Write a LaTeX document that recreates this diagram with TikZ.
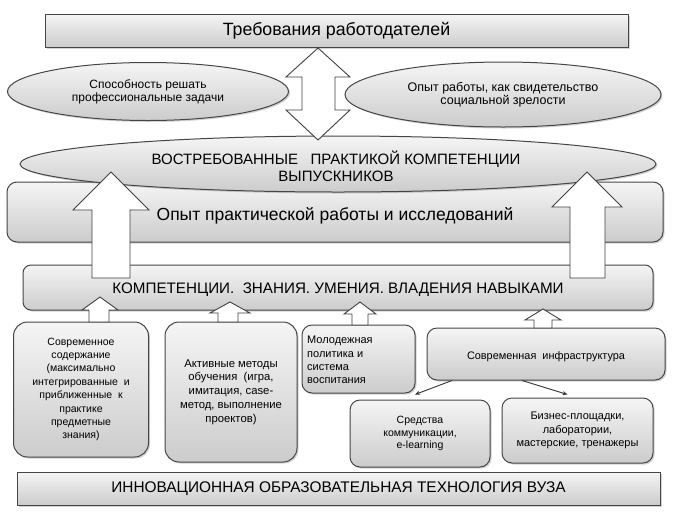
\documentclass[tikz,border=0pt]{standalone}
\usepackage{fontspec}
\setmainfont{Liberation Sans}
\usetikzlibrary{shadows,arrows.meta,shapes.geometric}
\newcommand{\fs}[2]{\fontsize{#1}{#2}\selectfont}
\tikzset{
  graybox/.style={draw=gray!55!black, line width=1pt, top color=gray!8, bottom color=gray!40,
    drop shadow={opacity=0.35, shadow xshift=1.5pt, shadow yshift=-1.5pt}},
  roundbox/.style={graybox, rounded corners=10pt},
  ovalbox/.style={graybox, ellipse},
  blockarrow/.style={draw=gray!50!black, fill=white, line width=0.9pt, line join=miter},
  thinarrow/.style={draw=black!80, line width=0.9pt, -{Stealth[length=5pt,width=4pt]}},
}
\begin{document}
\begin{tikzpicture}[x=1pt,y=-1pt]
\useasboundingbox (0,0) rectangle (674,512);
\fill[white] (0,0) rectangle (674,512);

% top
\node[graybox, minimum width=583pt, minimum height=33pt, inner sep=0pt, font=\fs{17.8}{20}] (emp) at (336.5,30.5) {Требования работодателей};

% ellipses
\node[ovalbox, minimum width=281pt, minimum height=58pt, inner sep=0pt, align=center, font=\fs{12}{13}] (abil) at (148,91.5) {Способность решать\\профессиональные задачи};
\node[ovalbox, minimum width=316pt, minimum height=65pt, inner sep=0pt, align=center, font=\fs{12.5}{13}] (exp) at (503,94.5) {Опыт работы, как свидетельство\\социальной зрелости};

% Opyt rect
\node[roundbox, minimum width=656pt, minimum height=60pt, inner sep=0pt] (prac) at (335,212) {};
\node[inner sep=0pt, font=\fs{17.5}{20}] (pract) at (335,216) {Опыт практической работы и исследований};

% big ellipse
\node[ovalbox, minimum width=636pt, minimum height=56pt, inner sep=0pt] (grad) at (338,164) {};
\node[align=center, inner sep=0pt, font=\fs{15}{17}] (gradt) at (336,166) {ВОСТРЕБОВАННЫЕ \ \ ПРАКТИКОЙ КОМПЕТЕНЦИИ\\ВЫПУСКНИКОВ};

% double arrow
\draw[blockarrow] (318,48) -- (350,77) -- (335,77) -- (335,110) -- (350,110) -- (318,140)
  -- (286,110) -- (302,110) -- (302,77) -- (286,77) -- cycle;

% competence rect
\node[roundbox, rounded corners=8pt, minimum width=630pt, minimum height=45pt, inner sep=0pt] (comp) at (338,287.5) {};
\node[inner sep=0pt, font=\fs{15.2}{17}] (compt) at (338,290) {КОМПЕТЕНЦИИ. \ ЗНАНИЯ. УМЕНИЯ. ВЛАДЕНИЯ НАВЫКАМИ};

% big up arrows
\draw[blockarrow] (111,172) -- (149,210) -- (130,210) -- (130,278) -- (92,278) -- (92,210) -- (73,210) -- cycle;
\draw[blockarrow] (587,172) -- (622,207) -- (605,207) -- (605,278) -- (570,278) -- (570,207) -- (552,207) -- cycle;

% bottom boxes
\node[roundbox, rounded corners=14pt, minimum width=135pt, minimum height=135pt, inner sep=0pt, align=center, font=\fs{10.5}{13.4}] (cont) at (81,389.5)
  {Современное\\содержание\\(максимально\\интегрированные \ и\\приближенные \ к\\практике\\предметные\\знания)};
\node[roundbox, rounded corners=14pt, minimum width=132pt, minimum height=140pt, inner sep=0pt, align=center, font=\fs{11.3}{13.8}] (meth) at (231,392)
  {Активные методы\\обучения \ (игра,\\имитация, case-\\метод, выполнение\\проектов)};
\node[roundbox, rounded corners=10pt, minimum width=113pt, minimum height=68pt, inner sep=0pt] (youth) at (358.5,359) {};
\node[anchor=west, align=left, inner sep=0pt, font=\fs{11}{13.3}] (youtht) at (307,360)
  {Молодежная\\политика и\\система\\воспитания};
\node[roundbox, rounded corners=10pt, minimum width=238pt, minimum height=52pt, inner sep=0pt] (infra) at (546,354) {};
\node[inner sep=0pt, font=\fs{10.9}{12}] (infrat) at (546,357) {Современная \ инфраструктура};
\node[roundbox, rounded corners=10pt, minimum width=140pt, minimum height=67pt, inner sep=0pt, align=center, font=\fs{10.5}{12.8}] (comm) at (420,433.5)
  {Средства\\коммуникации,\\e-learning};
\node[roundbox, rounded corners=10pt, minimum width=151pt, minimum height=65pt, inner sep=0pt, align=center, font=\fs{11}{13.2}] (biz) at (577.5,430.5)
  {Бизнес-площадки,\\лаборатории,\\мастерские, тренажеры};

% small up arrows
\draw[blockarrow] (100,297) -- (118,310) -- (109,310) -- (109,322) -- (89,322) -- (89,310) -- (82,310) -- cycle;
\draw[blockarrow] (230,302) -- (250,313) -- (238,313) -- (238,322) -- (218,322) -- (218,313) -- (210,313) -- cycle;
\draw[blockarrow] (360,302) -- (376,314) -- (368,314) -- (368,325) -- (352,325) -- (352,314) -- (344,314) -- cycle;
\draw[blockarrow] (543,309) -- (561,320) -- (552,320) -- (552,328) -- (534,328) -- (534,320) -- (525,320) -- cycle;

% thin arrows
\coordinate (c1) at ([xshift=-5pt,yshift=5pt]comm.north);
\coordinate (c2) at ([xshift=-10pt,yshift=3pt]biz.north);
\draw[thinarrow] ([xshift=-94pt]infra.south) -- (c1);
\draw[thinarrow] ([xshift=-24pt]infra.south) -- (c2);

% bottom
\node[graybox, minimum width=643pt, minimum height=33pt, inner sep=0pt, font=\fs{15.4}{17}] (tech) at (338.5,488.5) {ИННОВАЦИОННАЯ ОБРАЗОВАТЕЛЬНАЯ ТЕХНОЛОГИЯ ВУЗА};
\end{tikzpicture}
\end{document}
